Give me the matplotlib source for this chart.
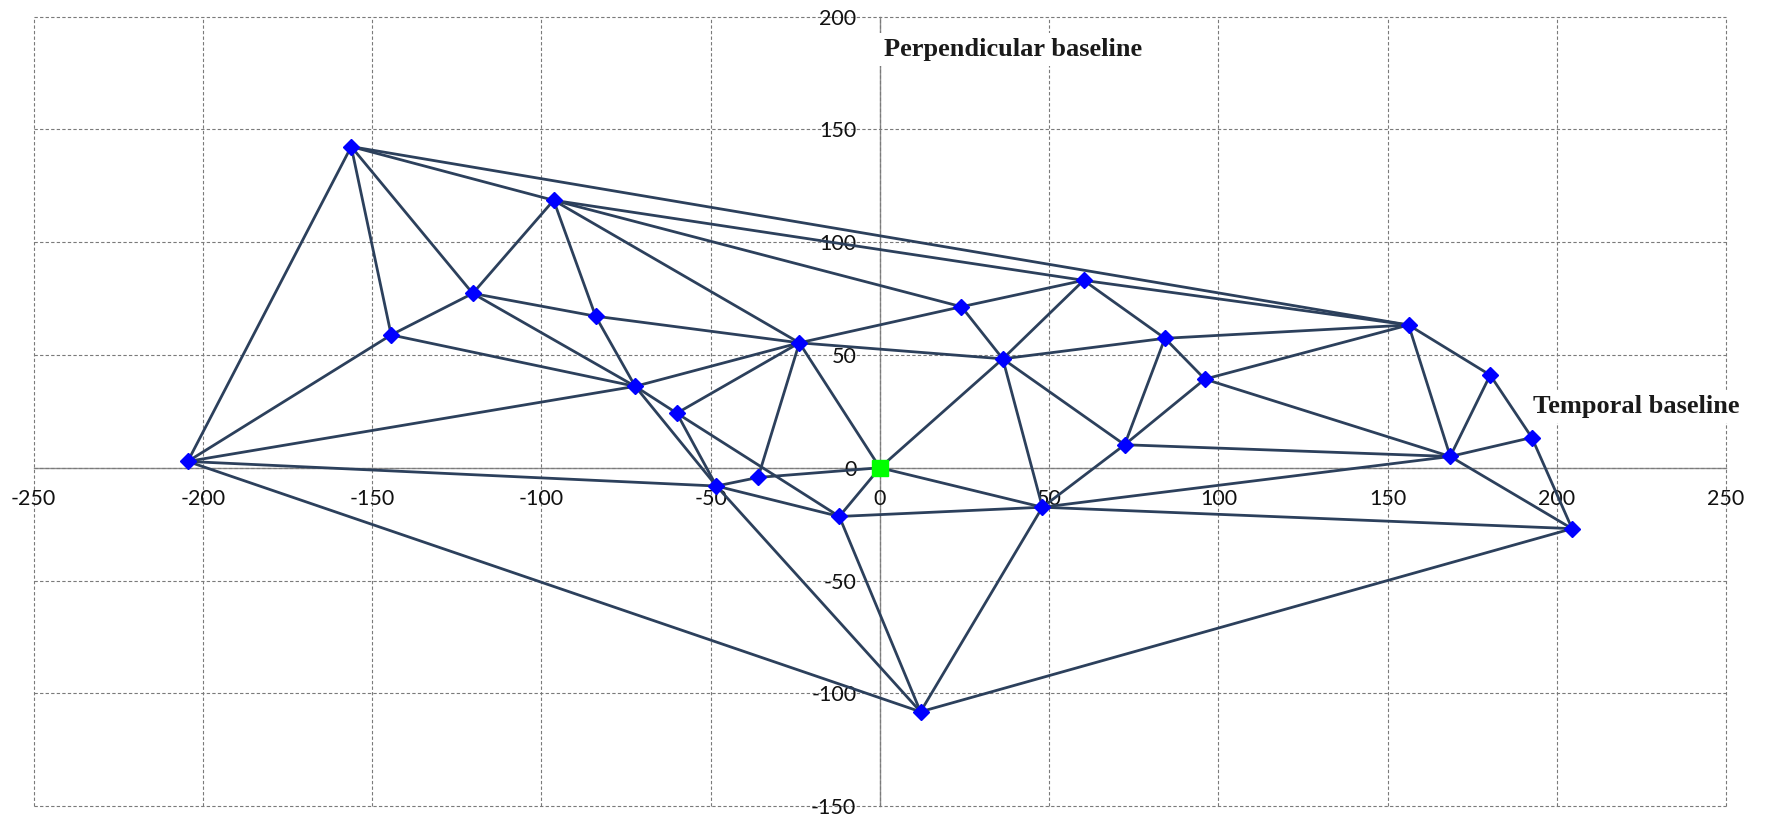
import matplotlib
matplotlib.use("Agg")
import matplotlib.pyplot as plt

plt.rcParams["axes.unicode_minus"] = False

# acquisitions: temporal baseline (x) and perpendicular baseline (y)
scene_ids = ["A", "B", "C", "D", "E", "F", "G", "H", "I", "J", "K", "L", "O",
             "M", "N", "P", "Q", "R", "S", "T", "U", "V", "W", "X", "Y", "Z"]
temporal = [-204.5, -156.2, -144.4, -120.3, -96.4, -84.0, -72.3, -60.0, -48.3,
            -36.0, -23.8, -12.0, 0.0, 12.0, 24.1, 36.3, 48.0, 60.2, 72.3, 84.2,
            96.0, 156.2, 168.5, 180.3, 192.6, 204.5]
perpendicular = [2.8, 142.4, 58.9, 77.3, 118.6, 67.2, 36.1, 24.2, -8.1, -4.3,
                 55.4, -21.6, 0.0, -108.2, 71.4, 48.3, -17.5, 83.1, 10.2, 57.4,
                 39.3, 63.3, 5.0, 41.1, 13.4, -27.0]
master_id = "O"

# interferometric pairs
pairs = [
    ("A", "B"), ("A", "C"), ("A", "G"), ("A", "I"), ("A", "M"),
    ("B", "C"), ("B", "D"), ("B", "E"), ("B", "V"),
    ("C", "D"), ("C", "G"),
    ("D", "E"), ("D", "F"), ("D", "G"),
    ("E", "F"), ("E", "K"), ("E", "N"), ("E", "R"),
    ("F", "G"), ("F", "K"),
    ("G", "K"), ("G", "I"), ("G", "H"),
    ("H", "L"), ("H", "K"), ("H", "I"),
    ("I", "J"), ("I", "M"), ("I", "L"),
    ("J", "K"), ("J", "O"),
    ("K", "O"), ("K", "N"), ("K", "P"),
    ("L", "O"), ("L", "Q"), ("L", "M"),
    ("O", "P"), ("O", "Q"),
    ("M", "Q"), ("M", "Z"),
    ("N", "R"), ("N", "P"),
    ("P", "R"), ("P", "T"), ("P", "S"), ("P", "Q"),
    ("R", "T"), ("R", "V"),
    ("T", "S"), ("T", "U"), ("T", "V"),
    ("U", "S"), ("U", "V"), ("U", "W"),
    ("S", "Q"), ("S", "W"),
    ("Q", "W"), ("Q", "Z"),
    ("V", "W"), ("V", "X"),
    ("W", "X"), ("W", "Y"), ("W", "Z"),
    ("X", "Y"), ("Y", "Z"),
]

xticks = list(range(-250, 251, 50))
yticks = list(range(-150, 201, 50))

pos = {s: (x, y) for s, x, y in zip(scene_ids, temporal, perpendicular)}

fig = plt.figure(figsize=(17.66, 8.15), dpi=100)
ax = fig.add_axes([0.0191, 0.011, 0.9583, 0.9685])

for a, b in pairs:
    ax.plot([pos[a][0], pos[b][0]], [pos[a][1], pos[b][1]],
            color="#2c405c", lw=2.0, zorder=3, solid_capstyle="round")

slaves = [s for s in scene_ids if s != master_id]
ax.plot([pos[s][0] for s in slaves], [pos[s][1] for s in slaves], "D",
        color="#0000ff", ms=8, mec="#0000ff", zorder=4)
ax.plot([pos[master_id][0]], [pos[master_id][1]], "s",
        color="#00ff00", ms=11, mec="#00ff00", zorder=5)

ax.set_xlim(-250, 250)
ax.set_ylim(-150, 200)
ax.set_xticks(xticks)
ax.set_yticks(yticks)

ax.spines["left"].set_position("zero")
ax.spines["bottom"].set_position("zero")
for side in ["top", "right"]:
    ax.spines[side].set_visible(False)
for side in ["left", "bottom"]:
    ax.spines[side].set_color("#8c8c8c")
    ax.spines[side].set_linewidth(1.0)
    ax.spines[side].set_zorder(1.5)

ax.grid(True, color="#7a7a7a", linestyle=(0, (3, 2)), lw=0.8, zorder=0)
for gl in ax.get_xgridlines() + ax.get_ygridlines():
    gl.set_clip_on(False)

ax.tick_params(axis="both", length=0, labelsize=15.5, colors="#111111")
ax.tick_params(axis="x", pad=15)
ax.tick_params(axis="y", pad=17)
for lab in ax.get_xticklabels() + ax.get_yticklabels():
    lab.set_fontfamily("Lato")

ax.text(1.2, 182.5, "Perpendicular baseline", family="Liberation Serif",
        fontweight="bold", fontsize=19, color="#1a1a1a", va="baseline",
        ha="left", zorder=6,
        bbox=dict(boxstyle="square,pad=0.2", facecolor="white", edgecolor="none"))
ax.text(192.9, 24.3, "Temporal baseline", family="Liberation Serif",
        fontweight="bold", fontsize=19, color="#1a1a1a", va="baseline",
        ha="left", zorder=6, clip_on=False,
        bbox=dict(boxstyle="square,pad=0.2", facecolor="white", edgecolor="none"))

fig.savefig("out.png", dpi=100, facecolor="white")
